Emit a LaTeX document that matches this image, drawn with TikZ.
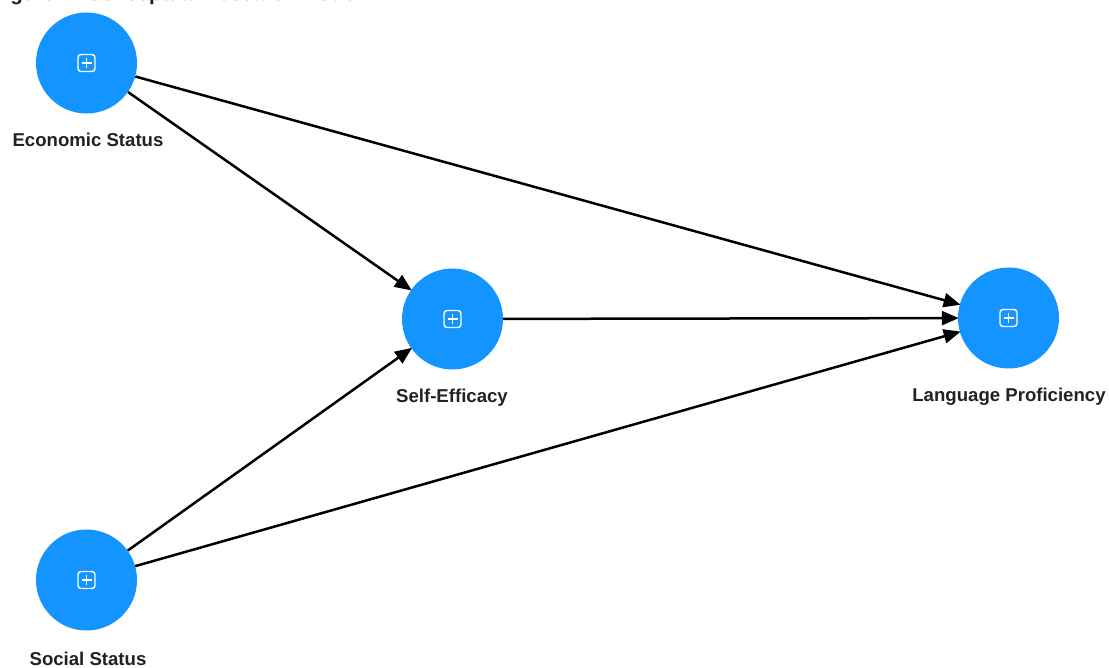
\documentclass[tikz,border=0pt]{standalone}
\usepackage{fontspec}
\setmainfont{Liberation Sans}
\usetikzlibrary{arrows.meta,calc}
\definecolor{nodeblue}{RGB}{20,148,255}
\definecolor{labelgrey}{RGB}{34,34,34}
\tikzset{
  latent/.style={circle, fill=nodeblue, draw=none, minimum size=101pt, inner sep=0pt},
  lbl/.style={font=\bfseries\fontsize{18.6}{21}\selectfont, text=labelgrey, inner sep=0pt},
  path/.style={line width=2.5pt, draw=black, -{Triangle[length=17pt, width=14pt]}, shorten >=-1pt},
  plusicon/.style={draw=white, line width=1.4pt, rounded corners=3pt}
}
\newcommand{\plusbox}[1]{%
  \draw[plusicon] ($(#1)+(-8.5pt,-8.5pt)$) rectangle ($(#1)+(8.5pt,8.5pt)$);
  \draw[white, line width=1.4pt] ($(#1)+(-5pt,0)$) -- ($(#1)+(5pt,0)$);
  \draw[white, line width=1.4pt] ($(#1)+(0,-5pt)$) -- ($(#1)+(0,5pt)$);
}
\begin{document}
\begin{tikzpicture}[x=1pt, y=-1pt]
\useasboundingbox (0,0) rectangle (1109,668);
\fill[white] (0,0) rectangle (1109,668);
\begin{scope}
\clip (0,0) rectangle (1109,668);
\node[anchor=base west, font=\bfseries\fontsize{20.5}{24}\selectfont, text=labelgrey, inner sep=0pt] (title) at (-8,0.2) {Figure 1: Conceptual Research Model};
\end{scope}

\node[latent] (econ) at (86.5,63) {};
\node[latent] (self) at (452.5,319) {};
\node[latent] (lang) at (1008.5,318) {};
\node[latent] (soc) at (86.5,580) {};

\plusbox{econ}
\plusbox{self}
\plusbox{lang}
\plusbox{soc}

\node[lbl] (econlbl) at (88,140) {Economic Status};
\node[lbl] (selflbl) at (452,397.5) {Self-Efficacy};
\node[lbl] (langlbl) at (1009,396.5) {Language Proficiency};
\node[lbl] (soclbl) at (88,658.5) {Social Status};

\draw[path] (econ) -- (self);
\draw[path] (econ) -- (lang);
\draw[path] (self) -- (lang);
\draw[path] (soc) -- (self);
\draw[path] (soc) -- (lang);
\end{tikzpicture}
\end{document}
